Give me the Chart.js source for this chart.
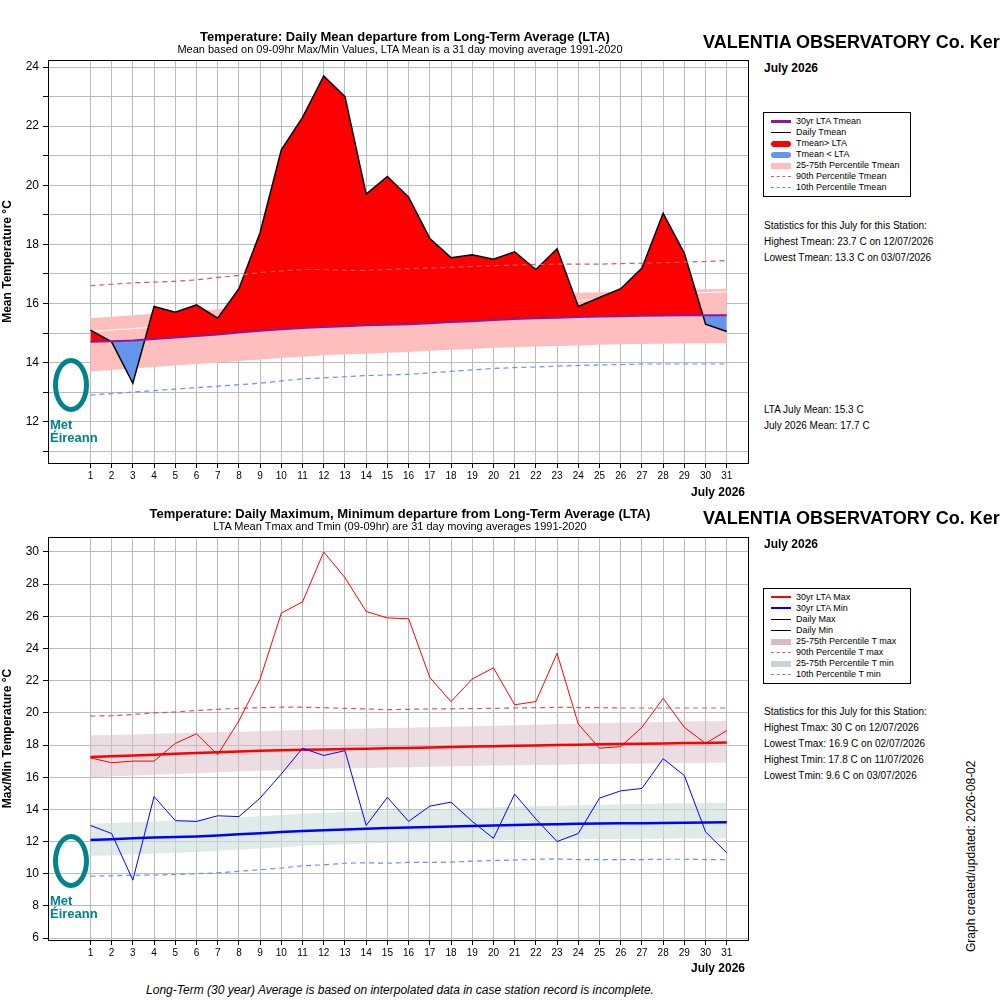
<!DOCTYPE html>
<html><head><meta charset="utf-8">
<script src="https://cdn.jsdelivr.net/npm/chart.js@4"></script>
<style>
body{margin:0;width:1000px;height:1000px;position:relative;background:#fff;font-family:"Liberation Sans",Arial,sans-serif;overflow:hidden}
.a{position:absolute;white-space:nowrap;color:#000}
.lg{position:absolute;border:1px solid #000;background:#fff;font-size:9px;padding:3px 4px}
.lg div{height:11px;line-height:11px;position:relative;padding-left:28px}
.lg span{position:absolute;left:3px;top:5px;width:20px}
.logo{position:absolute;color:#00838a;font-weight:bold;font-size:13px;line-height:13px}
</style></head><body>
<canvas id="c1" style="position:absolute;left:0;top:0"></canvas>
<canvas id="c2" style="position:absolute;left:0;top:500px"></canvas>

<div class="a" style="left:405px;top:29px;transform:translateX(-50%);font-weight:bold;font-size:13px">Temperature: Daily Mean departure from Long-Term Average (LTA)</div>
<div class="a" style="left:400px;top:43px;transform:translateX(-50%);font-size:11px">Mean based on 09-09hr Max/Min Values, LTA Mean is a 31 day moving average 1991-2020</div>
<div class="a" style="left:703px;top:32px;font-weight:bold;font-size:18px">VALENTIA OBSERVATORY Co. Kerry</div>
<div class="a" style="left:764px;top:61px;font-weight:bold;font-size:12px">July 2026</div>
<div class="a" style="left:691px;top:485px;font-weight:bold;font-size:12px">July 2026</div>
<div class="lg" style="left:763px;top:112px;width:138px">
<div><span style="border-top:3px solid #8b1a9b;top:4px"></span>30yr LTA Tmean</div>
<div><span style="border-top:1px solid #000"></span>Daily Tmean</div>
<div><span style="border-top:6px solid #f00;top:3px;border-radius:3px"></span>Tmean&gt; LTA</div>
<div><span style="border-top:6px solid #6495ed;top:3px;border-radius:3px"></span>Tmean &lt; LTA</div>
<div><span style="border-top:6px solid #ffbebe;top:3px"></span>25-75th Percentile Tmean</div>
<div><span style="border-top:1px dashed #cd5c5c"></span>90th Percentile Tmean</div>
<div><span style="border-top:1px dashed #6495ed"></span>10th Percentile Tmean</div>
</div>
<div class="a" style="left:764px;top:220px;font-size:10px">Statistics for this July for this Station:</div>
<div class="a" style="left:764px;top:236px;font-size:10px">Highest Tmean: 23.7 C on 12/07/2026</div>
<div class="a" style="left:764px;top:252px;font-size:10px">Lowest Tmean: 13.3 C on 03/07/2026</div>
<div class="a" style="left:764px;top:404px;font-size:10px">LTA July Mean: 15.3 C</div>
<div class="a" style="left:764px;top:420px;font-size:10px">July 2026 Mean: 17.7 C</div>
<div class="logo" style="left:50px;top:358px"><div style="width:26px;height:44px;border:5px solid #00838a;border-radius:50%;margin-left:3px;margin-bottom:6px"></div>Met<br>Éireann</div>

<div class="a" style="left:400px;top:506px;transform:translateX(-50%);font-weight:bold;font-size:13px">Temperature: Daily Maximum, Minimum departure from Long-Term Average (LTA)</div>
<div class="a" style="left:400px;top:520px;transform:translateX(-50%);font-size:11px">LTA Mean Tmax and Tmin (09-09hr) are 31 day moving averages 1991-2020</div>
<div class="a" style="left:703px;top:508px;font-weight:bold;font-size:18px">VALENTIA OBSERVATORY Co. Kerry</div>
<div class="a" style="left:764px;top:537px;font-weight:bold;font-size:12px">July 2026</div>
<div class="a" style="left:691px;top:961px;font-weight:bold;font-size:12px">July 2026</div>
<div class="lg" style="left:763px;top:588px;width:138px">
<div><span style="border-top:2px solid #f00;top:4px"></span>30yr LTA Max</div>
<div><span style="border-top:2px solid #00f;top:4px"></span>30yr LTA Min</div>
<div><span style="border-top:1px solid #000"></span>Daily Max</div>
<div><span style="border-top:1px solid #000"></span>Daily Min</div>
<div><span style="border-top:6px solid #d8bcc4;top:3px"></span>25-75th Percentile T max</div>
<div><span style="border-top:1px dashed #cd5c5c"></span>90th Percentile T max</div>
<div><span style="border-top:6px solid #c8d4d4;top:3px"></span>25-75th Percentile T min</div>
<div><span style="border-top:1px dashed #6495ed"></span>10th Percentile T min</div>
</div>
<div class="a" style="left:764px;top:706px;font-size:10px">Statistics for this July for this Station:</div>
<div class="a" style="left:764px;top:722px;font-size:10px">Highest Tmax: 30 C on 12/07/2026</div>
<div class="a" style="left:764px;top:738px;font-size:10px">Lowest Tmax: 16.9 C on 02/07/2026</div>
<div class="a" style="left:764px;top:754px;font-size:10px">Highest Tmin: 17.8 C on 11/07/2026</div>
<div class="a" style="left:764px;top:770px;font-size:10px">Lowest Tmin: 9.6 C on 03/07/2026</div>
<div class="logo" style="left:50px;top:834px"><div style="width:26px;height:44px;border:5px solid #00838a;border-radius:50%;margin-left:3px;margin-bottom:6px"></div>Met<br>Éireann</div>
<div class="a" style="left:964px;top:952px;transform:rotate(-90deg);transform-origin:0 0;font-size:12px">Graph created/updated:  2026-08-02</div>
<div class="a" style="left:400px;top:983px;transform:translateX(-50%);font-style:italic;font-size:12px">Long-Term (30 year) Average is based on interpolated data in case station record is incomplete.</div>

<script>
const days=[1,2,3,4,5,6,7,8,9,10,11,12,13,14,15,16,17,18,19,20,21,22,23,24,25,26,27,28,29,30,31];
const tmean=[15.1,14.7,13.3,15.9,15.7,15.95,15.5,16.5,18.4,21.2,22.3,23.7,23.0,19.7,20.3,19.6,18.2,17.55,17.65,17.5,17.75,17.15,17.85,15.9,16.2,16.5,17.2,19.05,17.7,15.3,15.05];
const ltaMean=[14.7,14.72,14.75,14.8,14.85,14.9,14.95,15.02,15.08,15.13,15.17,15.2,15.23,15.26,15.28,15.3,15.33,15.37,15.4,15.44,15.47,15.5,15.52,15.54,15.56,15.57,15.58,15.59,15.6,15.6,15.6];
const p25Mean=[13.7,13.75,13.8,13.85,13.9,13.95,14.0,14.05,14.1,14.15,14.2,14.25,14.28,14.3,14.33,14.36,14.4,14.43,14.46,14.5,14.52,14.54,14.56,14.58,14.6,14.62,14.63,14.64,14.65,14.65,14.65];
const p75Mean=[15.5,15.55,15.6,15.65,15.7,15.75,15.8,15.85,15.9,15.95,16.0,16.02,16.05,16.08,16.1,16.13,16.16,16.2,16.23,16.25,16.28,16.3,16.33,16.36,16.38,16.4,16.42,16.44,16.46,16.48,16.5];
const medMean=[15.05,15.1,15.15,15.2,15.25,15.3,15.35,15.42,15.5,15.55,15.6,15.65,15.7,15.72,15.75,15.78,15.82,15.86,15.9,15.93,15.96,16.0,16.05,16.1,16.15,16.2,16.25,16.3,16.34,16.37,16.4];
const p90Mean=[16.6,16.65,16.7,16.72,16.75,16.8,16.88,16.95,17.05,17.1,17.15,17.15,17.12,17.12,17.15,17.18,17.2,17.22,17.25,17.28,17.3,17.32,17.33,17.33,17.33,17.35,17.36,17.38,17.4,17.42,17.45];
const p10Mean=[12.9,12.95,13.0,13.05,13.1,13.15,13.2,13.25,13.3,13.38,13.45,13.48,13.52,13.56,13.58,13.6,13.65,13.7,13.75,13.8,13.83,13.85,13.88,13.9,13.92,13.93,13.95,13.95,13.95,13.95,13.95];

const tmax=[17.2,16.9,17.0,17.0,18.1,18.7,17.4,19.5,22.1,26.2,26.9,30.0,28.4,26.3,25.9,25.85,22.2,20.7,22.1,22.8,20.5,20.7,23.7,19.3,17.8,17.9,19.1,20.9,19.1,18.1,18.9];
const tmin=[13.0,12.5,9.6,14.8,13.3,13.25,13.6,13.55,14.7,16.2,17.8,17.35,17.65,13.0,14.75,13.25,14.2,14.45,13.25,12.2,14.95,13.4,12.0,12.5,14.7,15.15,15.3,17.15,16.1,12.6,11.3];
const ltaMax=[17.25,17.3,17.35,17.4,17.45,17.5,17.55,17.6,17.65,17.68,17.7,17.72,17.75,17.77,17.8,17.82,17.85,17.88,17.9,17.93,17.95,17.97,18.0,18.02,18.04,18.06,18.08,18.1,18.12,18.13,18.15];
const ltaMin=[12.1,12.15,12.2,12.25,12.28,12.32,12.38,12.45,12.52,12.6,12.65,12.7,12.75,12.8,12.84,12.88,12.9,12.93,12.97,13.0,13.03,13.06,13.08,13.1,13.12,13.13,13.14,13.15,13.17,13.18,13.2];
const p25Max=[16.0,16.05,16.1,16.15,16.2,16.25,16.3,16.35,16.4,16.45,16.5,16.52,16.55,16.57,16.6,16.62,16.65,16.68,16.7,16.72,16.74,16.76,16.78,16.8,16.82,16.84,16.85,16.86,16.88,16.89,16.9];
const p75Max=[18.6,18.63,18.66,18.7,18.73,18.76,18.8,18.83,18.86,18.9,18.93,18.96,19.0,19.02,19.05,19.08,19.1,19.13,19.16,19.2,19.23,19.26,19.3,19.33,19.36,19.38,19.4,19.43,19.46,19.48,19.5];
const p90Max=[19.8,19.82,19.9,20.0,20.05,20.15,20.22,20.28,20.32,20.35,20.35,20.32,20.28,20.24,20.2,20.22,20.24,20.25,20.26,20.28,20.3,20.32,20.34,20.33,20.32,20.3,20.3,20.3,20.3,20.3,20.3];
const p25Min=[11.1,11.15,11.2,11.25,11.3,11.35,11.42,11.5,11.57,11.65,11.72,11.78,11.83,11.88,11.92,11.95,11.98,12.0,12.03,12.06,12.08,12.1,12.12,12.14,12.15,12.16,12.17,12.18,12.19,12.2,12.2];
const p75Min=[13.1,13.15,13.2,13.25,13.3,13.35,13.42,13.5,13.57,13.65,13.72,13.78,13.83,13.88,13.92,13.96,14.0,14.04,14.08,14.12,14.16,14.2,14.23,14.26,14.29,14.32,14.34,14.36,14.38,14.39,14.4];
const p10Min=[9.85,9.87,9.9,9.92,9.95,10.0,10.05,10.15,10.25,10.35,10.5,10.55,10.65,10.68,10.65,10.7,10.7,10.72,10.78,10.82,10.85,10.9,10.92,10.88,10.88,10.88,10.88,10.9,10.9,10.88,10.88];

const pts=a=>a.map((v,i)=>({x:days[i],y:v}));
const L=(data,color,w,extra)=>Object.assign({data:pts(data),borderColor:color,borderWidth:w,pointRadius:0,fill:false,tension:0},extra||{});

function opts(ymin,ymax,ytitle,padTop,xh){
 return {responsive:false,animation:false,
  layout:{padding:{top:padTop,right:12,left:0,bottom:0}},
  plugins:{legend:{display:false},tooltip:{enabled:false}},
  scales:{
   x:{type:'linear',min:-1,max:32,
     afterBuildTicks:s=>{s.ticks=days.map(d=>({value:d}))},
     afterFit:s=>{s.height=xh},
     ticks:{font:{size:10,family:'Liberation Sans'},color:'#000',maxRotation:0,autoSkip:false,padding:2},
     grid:{color:'#bbb',tickLength:5,tickColor:'#000'},border:{color:'#000',width:1}},
   y:{min:ymin,max:ymax,
     afterBuildTicks:s=>{const t=[];for(let v=Math.ceil(ymin);v<=ymax;v++)t.push({value:v});s.ticks=t},
     afterFit:s=>{s.width=48},
     ticks:{font:{size:12,family:'Liberation Sans'},color:'#000',callback:v=>v%2===0?v:'',padding:4},
     title:{display:true,text:ytitle,font:{size:12,weight:'bold',family:'Liberation Sans'},color:'#000',padding:0},
     grid:{color:'#bbb',tickLength:5,tickColor:'#000'},border:{color:'#000',width:1}}
  }};
}
const frame={id:'frame',afterDraw(c){const a=c.chartArea,x=c.ctx;x.save();x.strokeStyle='#000';x.lineWidth=1;x.strokeRect(a.left+0.5,a.top+0.5,a.right-a.left,a.bottom-a.top);x.restore();}};

const c1=document.getElementById('c1');c1.width=760;c1.height=500;
new Chart(c1,{type:'line',plugins:[frame],data:{datasets:[
 L(p25Mean,'transparent',0,{fill:'+1',backgroundColor:'#ffbebe',order:10}),
 L(p75Mean,'transparent',0,{order:10}),
 L(medMean,'#fff',1,{order:9}),
 L(ltaMean,'#8b1a9b',2,{order:5}),
 L(tmean,'#000',1.5,{fill:{target:3,above:'#ff0000',below:'#6495ed'},order:6}),
 L(p90Mean,'#cd5c5c',1.2,{borderDash:[5,4],order:4}),
 L(p10Mean,'#6495ed',1.2,{borderDash:[5,4],order:4})
]},options:opts(10.6,24.24,'Mean Temperature °C',60,37)});

const c2=document.getElementById('c2');c2.width=760;c2.height=480;
new Chart(c2,{type:'line',plugins:[frame],data:{datasets:[
 L(p25Max,'transparent',0,{fill:'+1',backgroundColor:'rgba(216,188,196,0.5)',order:10}),
 L(p75Max,'transparent',0,{order:10}),
 L(p25Min,'transparent',0,{fill:'+1',backgroundColor:'rgba(200,222,216,0.6)',order:10}),
 L(p75Min,'transparent',0,{order:10}),
 L(ltaMax,'#f00',2.5,{order:5}),
 L(ltaMin,'#00f',2.5,{order:5}),
 L(tmax,'#f00',1,{order:4}),
 L(tmin,'#00f',1,{order:4}),
 L(p90Max,'#cd5c5c',1.2,{borderDash:[5,4],order:4}),
 L(p10Min,'#6495ed',1.2,{borderDash:[5,4],order:4})
]},options:opts(5.88,30.93,'Max/Min Temperature °C',37,40)});
</script>
</body></html>
